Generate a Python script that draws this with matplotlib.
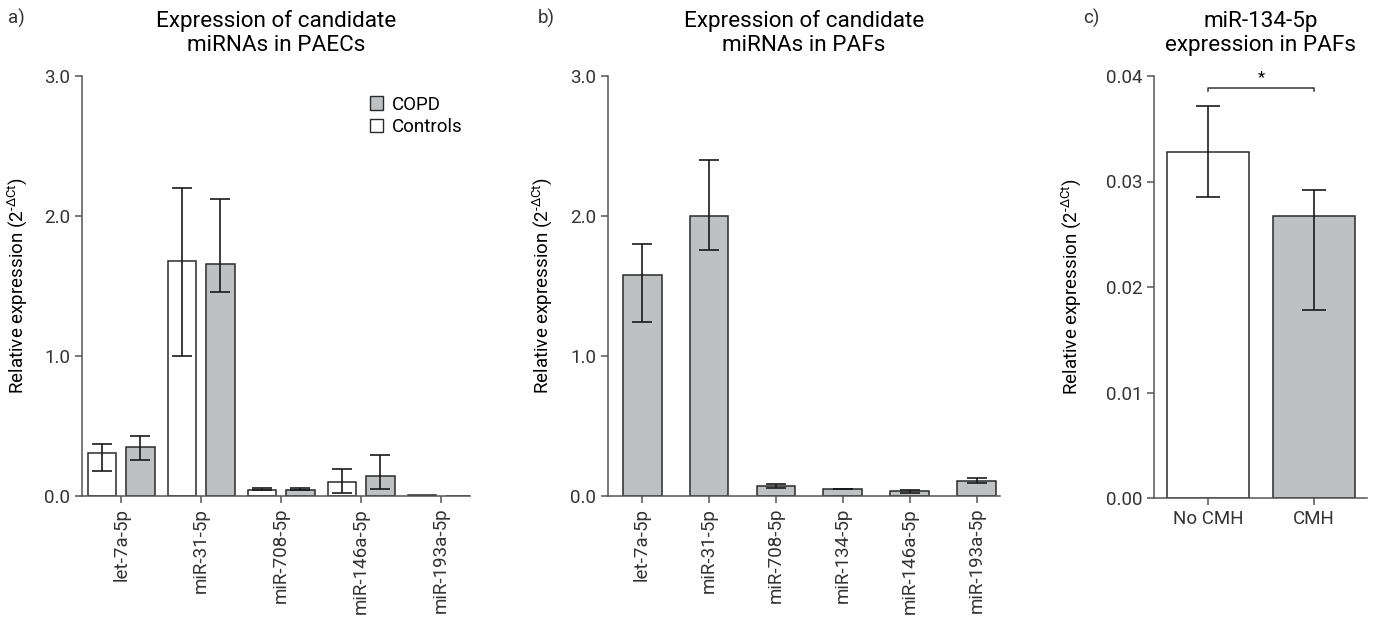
import matplotlib.pyplot as plt
import numpy as np
from matplotlib.patches import Patch

plt.rcParams['font.family'] = ['Roboto', 'DejaVu Sans']
plt.rcParams['mathtext.fontset'] = 'custom'
plt.rcParams['mathtext.rm'] = 'Roboto'
plt.rcParams['font.size'] = 13.5

GRAY = '#bfc0c2'
EDGE = '#2a2a2a'
AXC = '#555555'

# panel a - PAECs
a_labels = ["let-7a-5p", "miR-31-5p", "miR-708-5p", "miR-146a-5p", "miR-193a-5p"]
a_ctrl = [0.31, 1.68, 0.045, 0.10, 0.005]
a_ctrl_lo = [0.18, 1.00, 0.040, 0.02, 0.005]
a_ctrl_hi = [0.37, 2.20, 0.055, 0.19, 0.005]
a_copd = [0.35, 1.66, 0.045, 0.14, 0.0]
a_copd_lo = [0.26, 1.46, 0.040, 0.05, 0.0]
a_copd_hi = [0.43, 2.12, 0.055, 0.29, 0.0]

# panel b - PAFs
b_labels = ["let-7a-5p", "miR-31-5p", "miR-708-5p", "miR-134-5p", "miR-146a-5p", "miR-193a-5p"]
b_vals = [1.58, 2.00, 0.07, 0.05, 0.035, 0.11]
b_lo = [1.24, 1.76, 0.055, 0.05, 0.025, 0.09]
b_hi = [1.80, 2.40, 0.085, 0.05, 0.045, 0.13]

# panel c - miR-134-5p
c_labels = ["No CMH", "CMH"]
c_vals = [0.0328, 0.0267]
c_lo = [0.0285, 0.0178]
c_hi = [0.0372, 0.0292]

ylab = r"Relative expression (2$^{\mathregular{‐ΔCt}}$)"


def yerr(v, lo, hi):
    v = np.array(v); return [v - np.array(lo), np.array(hi) - v]


def style(ax):
    for s in ['top', 'right']:
        ax.spines[s].set_visible(False)
    for s in ['left', 'bottom']:
        ax.spines[s].set_color(AXC)
        ax.spines[s].set_linewidth(1.1)
    ax.tick_params(color=AXC, width=1.1, length=5, labelcolor='#333333')


fig = plt.figure(figsize=(13.74, 6.33), dpi=100)
W, H = 1374, 633

def mkax(l, r, t, b):
    return fig.add_axes([l / W, 1 - b / H, (r - l) / W, (b - t) / H])

ek = dict(ecolor='#1a1a1a', elinewidth=1.2, capsize=7, capthick=1.2, zorder=3)

# a
ax = mkax(82, 470, 76, 496)
x = np.arange(len(a_labels))
ax.bar(x - 0.24, a_ctrl, 0.36, color='white', edgecolor=EDGE, linewidth=1.1)
ax.errorbar(x[:4] - 0.24, a_ctrl[:4], yerr=[e[:4] for e in yerr(a_ctrl, a_ctrl_lo, a_ctrl_hi)], fmt='none', **ek)
ax.bar(x + 0.24, a_copd, 0.36, color=GRAY, edgecolor=EDGE, linewidth=1.1)
ax.errorbar(x[:4] + 0.24, a_copd[:4], yerr=[e[:4] for e in yerr(a_copd, a_copd_lo, a_copd_hi)], fmt='none', **ek)
ax.set_xlim(-0.49, 4.36)
ax.set_ylim(0, 3.0)
ax.set_yticks([0, 1, 2, 3])
ax.set_yticklabels(['0.0', '1.0', '2.0', '3.0'])
ax.set_xticks(x)
ax.set_xticklabels(a_labels, rotation=90)
ax.set_title("Expression of candidate\nmiRNAs in PAECs", pad=18)
ax.set_ylabel(ylab)
ax.yaxis.set_label_coords(-0.135, 0.5)
style(ax)
hnd = [Patch(facecolor=GRAY, edgecolor=EDGE, linewidth=1.0, label='COPD'),
       Patch(facecolor='white', edgecolor=EDGE, linewidth=1.0, label='Controls')]
ax.legend(handles=hnd, loc='upper left', bbox_to_anchor=(362 / W, 1 - 88 / H), bbox_transform=fig.transFigure,
          frameon=False, handlelength=0.7, handleheight=0.7, handletextpad=0.5, labelspacing=0.25, borderaxespad=0)

# b
ax = mkax(608, 1000, 76, 496)
x = np.arange(len(b_labels))
ax.bar(x, b_vals, 0.58, color=GRAY, edgecolor=EDGE, linewidth=1.1)
ax.errorbar(x, b_vals, yerr=yerr(b_vals, b_lo, b_hi), fmt='none', **ek)
ax.set_xlim(-0.51, 5.35)
ax.set_ylim(0, 3.0)
ax.set_yticks([0, 1, 2, 3])
ax.set_yticklabels(['0.0', '1.0', '2.0', '3.0'])
ax.set_xticks(x)
ax.set_xticklabels(b_labels, rotation=90)
ax.set_title("Expression of candidate\nmiRNAs in PAFs", pad=18)
ax.set_ylabel(ylab)
ax.yaxis.set_label_coords(-0.135, 0.5)
style(ax)

# c
ax = mkax(1154, 1367, 76, 498)
x = np.arange(len(c_labels))
ax.bar(x, c_vals, 0.78, color=['white', GRAY], edgecolor=EDGE, linewidth=1.1)
ax.errorbar(x, c_vals, yerr=yerr(c_vals, c_lo, c_hi), fmt='none', **dict(ek, capsize=8.5))
ax.plot([0, 0, 1, 1], [0.0386, 0.0389, 0.0389, 0.0386], color='#333333', lw=1.1)
ax.text(0.5, 0.0391, '*', ha='center', va='bottom', fontsize=12)
ax.set_xlim(-0.51, 1.5)
ax.set_ylim(0, 0.04)
ax.set_yticks([0, 0.01, 0.02, 0.03, 0.04])
ax.set_yticklabels(['0.00', '0.01', '0.02', '0.03', '0.04'])
ax.set_xticks(x)
ax.set_xticklabels(c_labels)
ax.set_title("miR-134-5p\nexpression in PAFs", pad=18)
ax.set_ylabel(ylab)
ax.yaxis.set_label_coords(-0.33, 0.5)
style(ax)

for lbl, px in [('a)', 8), ('b)', 538), ('c)', 1083)]:
    fig.text(px / W, 1 - 18 / H, lbl, ha='left', va='center', fontsize=13.5, color='#333333')

fig.savefig('out.png', dpi=100)
